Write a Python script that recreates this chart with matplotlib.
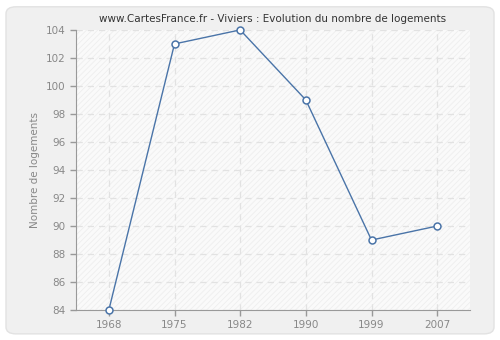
import matplotlib.pyplot as plt
from matplotlib.patches import FancyBboxPatch

years = ['1968', '1975', '1982', '1990', '1999', '2007']
logements = [84, 103, 104, 99, 89, 90]
yticks = [84, 86, 88, 90, 92, 94, 96, 98, 100, 102, 104]

plt.rcParams['hatch.linewidth'] = 0.6

fig = plt.figure(figsize=(5, 3.4), dpi=100)
fig.patch.set_facecolor('white')
# rounded grey panel behind everything
panel = FancyBboxPatch((0.012, 0.018), 0.976, 0.962, boxstyle='round,pad=0,rounding_size=0.02',
                       transform=fig.transFigure, facecolor='#f0f0f0', edgecolor='#e2e2e2',
                       lw=1, zorder=-10)
fig.patches.append(panel)

ax = fig.add_axes([0.152, 0.088, 0.788, 0.824])
ax.set_facecolor('#fafafa')
ax.add_patch(plt.Rectangle((0, 0), 1, 1, transform=ax.transAxes, facecolor='none',
                           edgecolor='#eeeeee', hatch='//////', lw=0, zorder=0))

x = list(range(len(years)))
ax.plot(x, logements, color='#4a74a8', lw=1, zorder=3)
ax.plot(x, logements, 'o', ms=5, mfc='white', mec='#4a74a8', mew=1.1, zorder=4, clip_on=False)

ax.set_xlim(-0.5, 5.5)
ax.set_ylim(84, 104)
ax.set_xticks(x)
ax.set_xticklabels(years)
ax.set_yticks(yticks)
ax.grid(True, color='#e2e2e2', linestyle=(0, (5, 4)), lw=0.9)
ax.set_axisbelow(True)

for s in ['top', 'right']:
    ax.spines[s].set_visible(False)
for s in ['left', 'bottom']:
    ax.spines[s].set_color('#999999')
ax.tick_params(colors='#999999', labelcolor='#888888', labelsize=7.5, length=4, width=1)
ax.set_ylabel('Nombre de logements', color='#888888', fontsize=7.5)
ax.set_title('www.CartesFrance.fr - Viviers : Evolution du nombre de logements',
             fontsize=7.5, color='#333333', pad=6)

fig.savefig('out.png', dpi=100, facecolor=fig.get_facecolor())
